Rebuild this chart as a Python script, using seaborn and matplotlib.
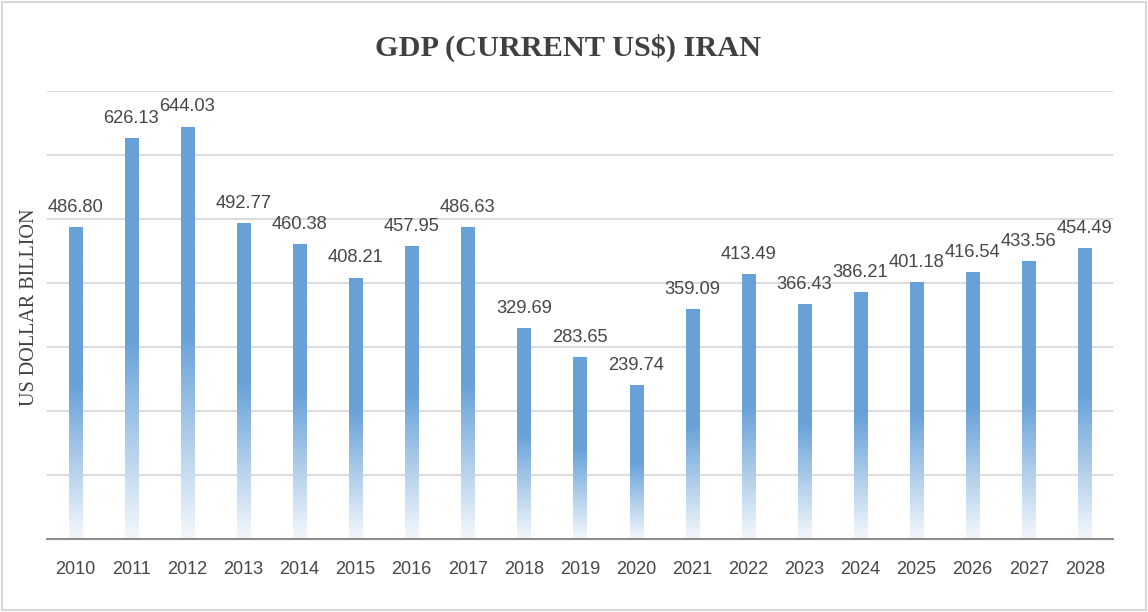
import numpy as np
import pandas as pd
import matplotlib
matplotlib.use("Agg")
import matplotlib.pyplot as plt
from matplotlib.colors import LinearSegmentedColormap
from matplotlib.patches import Rectangle
import seaborn as sns

years = ["2010", "2011", "2012", "2013", "2014", "2015", "2016", "2017", "2018", "2019",
         "2020", "2021", "2022", "2023", "2024", "2025", "2026", "2027", "2028"]
gdp_billion = [486.80, 626.13, 644.03, 492.77, 460.38, 408.21, 457.95, 486.63, 329.69, 283.65,
               239.74, 359.09, 413.49, 366.43, 386.21, 401.18, 416.54, 433.56, 454.49]

title_text = "GDP (CURRENT US$) IRAN"
ylabel_text = "US DOLLAR BILLION"

BAR_BLUE = "#67A1D8"
TEXT_GRAY = "#474747"
GRID_GRAY = "#D9D9D9"

df = pd.DataFrame({"year": years, "gdp": gdp_billion})

sns.set_theme(style="white")
plt.rcParams["font.family"] = ["Liberation Sans", "DejaVu Sans"]

fig = plt.figure(figsize=(11.48, 6.12), dpi=100)
ax = fig.add_axes([0.041, 0.1193, 0.9285, 0.7325])

sns.barplot(data=df, x="year", y="gdp", color=BAR_BLUE, width=0.235,
            saturation=1, ax=ax, zorder=3)

# vertical gradient fill: solid blue over the upper half, fading to white at the base
grad_cmap = LinearSegmentedColormap.from_list(
    "bar_fade", [(0.0, "#F4F8FC"), (0.5, BAR_BLUE), (1.0, BAR_BLUE)])
grad = np.linspace(0, 1, 256).reshape(-1, 1)
for bar in ax.patches:
    x0, y0 = bar.get_x(), bar.get_y()
    w, h = bar.get_width(), bar.get_height()
    im = ax.imshow(grad, cmap=grad_cmap, origin="lower", aspect="auto",
                   extent=(x0, x0 + w, y0, y0 + h), zorder=3, interpolation="bilinear")
    im.set_clip_path(bar)
    bar.set_facecolor("none")
    bar.set_edgecolor("none")

ax.bar_label(ax.containers[0], labels=[f"{v:.2f}" for v in gdp_billion],
             padding=8, fontsize=13.2, color=TEXT_GRAY)

ax.set_xlim(-0.5, len(years) - 0.5)
ax.set_ylim(0, 700)
ax.set_yticks(np.arange(0, 701, 100))
ax.set_yticklabels([])
ax.yaxis.grid(True, color=GRID_GRAY, linewidth=1.3, zorder=0)
ax.set_axisbelow(True)
ax.tick_params(axis="x", length=0, pad=16, labelsize=13, labelcolor=TEXT_GRAY)
ax.tick_params(axis="y", length=0)
ax.set_xlabel("")
ax.set_ylabel("")
for side in ("top", "right", "left"):
    ax.spines[side].set_visible(False)
ax.spines["bottom"].set_color("#8C8C8C")
ax.spines["bottom"].set_linewidth(1.5)
ax.spines["bottom"].set_zorder(4)

fig.text(0.495, 0.922, title_text, ha="center", va="center", fontsize=21.8,
         fontweight="bold", color="#404040", family=["Liberation Serif", "DejaVu Serif"])
fig.text(0.026, 0.498, ylabel_text, ha="center", va="center", rotation=90,
         fontsize=14.5, color="#404040", family=["Liberation Serif", "DejaVu Serif"])

fig.patches.append(Rectangle((0.002, 0.003), 0.996, 0.994, transform=fig.transFigure,
                             fill=False, edgecolor="#D0D0D0", linewidth=1.2))

fig.savefig("out.png", dpi=100, facecolor="white")
